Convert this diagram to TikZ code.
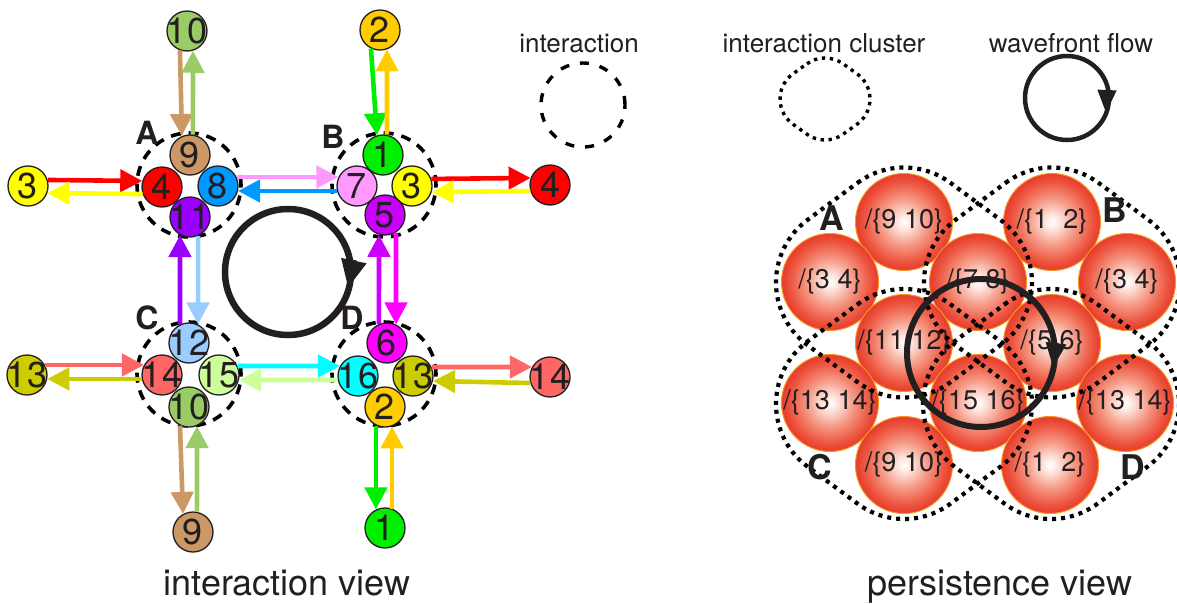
\documentclass[tikz,border=0pt]{standalone}
\usepackage{fontspec}
\setmainfont{TeX Gyre Heros}
\usetikzlibrary{arrows.meta,calc}
\definecolor{txt}{HTML}{231F20}
\definecolor{c1}{HTML}{00EE00}
\definecolor{c2}{HTML}{FFCC00}
\definecolor{c3}{HTML}{FFFF00}
\definecolor{c4}{HTML}{FF0000}
\definecolor{c5}{HTML}{CC00FF}
\definecolor{c6}{HTML}{FF00FF}
\definecolor{c7}{HTML}{FF99FF}
\definecolor{c8}{HTML}{0099FF}
\definecolor{c9}{HTML}{CC9966}
\definecolor{c10}{HTML}{99CC66}
\definecolor{c11}{HTML}{9900FF}
\definecolor{c12}{HTML}{99CCFF}
\definecolor{c13}{HTML}{CCCC00}
\definecolor{c14}{HTML}{FF6666}
\definecolor{c15}{HTML}{CCFF99}
\definecolor{c16}{HTML}{00FFFF}
\definecolor{sphA}{HTML}{FDE3DC}
\definecolor{sphB}{HTML}{F59A86}
\definecolor{sphC}{HTML}{EE5A44}
\definecolor{sphD}{HTML}{E63A2C}
\definecolor{rimc}{HTML}{F7941D}
\pgfdeclareradialshading{sphshade}{\pgfpointorigin}{color(0bp)=(white); color(4bp)=(sphA); color(12bp)=(sphB); color(20bp)=(sphC); color(25bp)=(sphD); color(50bp)=(sphD)}
\tikzset{
  num/.style={circle, draw=txt, line width=1.3pt, minimum size=40pt, inner sep=0pt},
  numtxt/.style={inner sep=0pt, text=txt, font=\fontsize{36}{36}\selectfont},
  arr/.style={line width=4.6pt, -{Triangle[length=22pt,width=22pt]}},
  inter/.style={draw=black, line width=3.6pt, dash pattern=on 10pt off 8pt},
  clus/.style={draw=black, line width=4.2pt, dash pattern=on 4pt off 5pt},
  flow/.style={draw=txt, line width=6.5pt},
  lblL/.style={text=txt, font=\fontsize{32}{32}\selectfont\bfseries, inner sep=0pt},
  lblR/.style={text=txt, font=\fontsize{34}{34}\selectfont\bfseries, inner sep=0pt},
  legtxt/.style={text=txt, font=\fontsize{26}{26}\selectfont, anchor=base, inner sep=0pt},
  viewtxt/.style={text=txt, font=\fontsize{36}{36}\selectfont, anchor=base, inner sep=0pt},
  sphtxt/.style={text=txt, font=\fontsize{27}{27}\selectfont, inner sep=0pt},
  rim/.style={draw=rimc, line width=1pt},
}
\newcommand\numnode[5]{\node[num, fill=#4] (#1) at (#2,-#3) {}; \node[numtxt] (#1t) at (#1) {#5};}
\newcommand\sphnode[4]{\shade[shading=sphshade] (#2,-#3) circle (48.5pt); \draw[rim] (#2,-#3) circle (48.5pt); \node[sphtxt] (#1) at (#2,-#3) {#4};}
\newcommand\clusterhull[7]{%
  \pgfmathsetmacro\hA{180-#6}\pgfmathsetmacro\hB{-180+#6}\pgfmathsetmacro\hC{-180-#6}\pgfmathsetmacro\hD{-#6}%
  \draw[#7] (#1,-#2) ++(0,#4) ++(\hA:#5) arc[start angle=\hA, end angle=#6, radius=#5]
    -- ++(#3,-#4) arc[start angle=#6, end angle=\hD, radius=#5]
    -- ++(-#3,-#4) arc[start angle=\hD, end angle=\hB, radius=#5]
    -- ++(-#3,#4) arc[start angle=\hB, end angle=\hC, radius=#5] -- cycle;}
\begin{document}
\begin{tikzpicture}[x=1pt,y=1pt]
\useasboundingbox (0,0) rectangle (1177,-603);
% ---------- interaction view ----------
\draw[inter] (189,-185) circle (52);
\draw[inter] (384,-185) circle (52);
\draw[inter] (189,-374) circle (52);
\draw[inter] (384,-374) circle (52);
% wavefront flow (left)
\draw[flow] (288,-272) circle (63);
\coordinate (fLt) at (348,-288);
\draw[txt, line width=6.5pt, -{Triangle[length=28pt,width=24pt]}] ($(fLt)+(6,28)$) -- (fLt);
% nodes
\numnode{A9}{190}{155}{c9}{9}
\numnode{A4}{162}{187}{c4}{4}
\numnode{A8}{218}{186}{c8}{8}
\numnode{A11}{190}{217}{c11}{11}
\numnode{B1}{383}{155}{c1}{1}
\numnode{B7}{357}{186}{c7}{7}
\numnode{B3}{412}{186}{c3}{3}
\numnode{B5}{385}{215}{c5}{5}
\numnode{C12}{189}{343}{c12}{12}
\numnode{C14}{162}{375}{c14}{14}
\numnode{C15}{219}{375}{c15}{15}
\numnode{C10}{189}{407}{c10}{10}
\numnode{D6}{387}{343}{c6}{6}
\numnode{D16}{358}{376}{c16}{16}
\numnode{D13}{413}{376}{c13}{13}
\numnode{D2}{385}{407}{c2}{2}
\numnode{o10}{187}{31}{c10}{10}
\numnode{o2}{380}{30}{c2}{2}
\numnode{o3}{28}{186}{c3}{3}
\numnode{o4}{550}{185}{c4}{4}
\numnode{o13}{27}{375}{c13}{13}
\numnode{o14}{550}{377}{c14}{14}
\numnode{o9}{193}{532}{c9}{9}
\numnode{o1}{385}{528}{c1}{1}
% arrows (colour of target)
\draw[arr, c4] (o3.17) -- (A4.163);
\draw[arr, c3] (A4.200) -- (o3.-20);
\draw[arr, c7] (A8.26) -- (B7.154);
\draw[arr, c8] (B7.194) -- (A8.-14);
\draw[arr, c4] (B3.20) -- (o4.160);
\draw[arr, c3] (o4.197) -- (B3.-17);
\draw[arr, c9] (o10.250) -- (A9.113);
\draw[arr, c10] (A9.82) -- (o10.-73);
\draw[arr, c1] (o2.244) -- (B1.107);
\draw[arr, c2] (B1.79) -- (o2.-70);
\draw[arr, c11] (C12.116) -- (A11.241);
\draw[arr, c12] (A11.-67) -- (C12.64);
\draw[arr, c5] (D6.113) -- (B5.253);
\draw[arr, c6] (B5.-58) -- (D6.64);
\draw[arr, c16] (C15.26) -- (D16.151);
\draw[arr, c15] (D16.191) -- (C15.-14);
\draw[arr, c14] (o13.29) -- (C14.151);
\draw[arr, c13] (C14.191) -- (o13.-11);
\draw[arr, c14] (D13.26) -- (o14.151);
\draw[arr, c13] (o14.197) -- (D13.-14);
\draw[arr, c9] (C10.244) -- (o9.119);
\draw[arr, c10] (o9.79) -- (C10.-67);
\draw[arr, c1] (D2.244) -- (o1.116);
\draw[arr, c2] (o1.70) -- (D2.-70);
% cluster labels
\node[lblL] (LA) at (147,-133) {A};
\node[lblL] (LB) at (333,-137) {B};
\node[lblL] (LC) at (147,-318) {C};
\node[lblL] (LD) at (352,-318) {D};
\node[viewtxt] (iview) at (287,-595) {interaction view};
% ---------- legend ----------
\node[legtxt] (leg1) at (579,-52) {interaction};
\node[legtxt] (leg2) at (824,-52) {interaction cluster};
\node[legtxt] (leg3) at (1071,-52) {wavefront flow};
\draw[black, line width=3.4pt, dash pattern=on 9pt off 11pt] (583,-105) circle (42);
\clusterhull{825}{99}{14}{10}{31}{54.5}{black, line width=3.4pt, dash pattern=on 3.4pt off 4.6pt}
\draw[txt, line width=4.5pt] (1067,-98) circle (42);
\coordinate (fGt) at (1106,-113);
\draw[txt, line width=4.5pt, -{Triangle[length=23pt,width=18pt]}] ($(fGt)+(1,23)$) -- (fGt);
% ---------- persistence view ----------
\sphnode{s1}{904}{222}{/\{9 10\}}
\sphnode{s2}{1052}{222}{/\{1\hspace{0.56em}2\}}
\sphnode{s3}{830}{282}{/\{3 4\}}
\sphnode{s4}{978}{282}{/\{7 8\}}
\sphnode{s5}{1127}{282}{/\{3 4\}}
\sphnode{s6}{904}{343}{/\{11 12\}}
\sphnode{s7}{1052}{343}{/\{5 6\}}
\sphnode{s8}{830}{403}{/\{13 14\}}
\sphnode{s9}{978}{403}{/\{15 16\}}
\sphnode{s10}{1125}{403}{/\{13 14\}}
\sphnode{s11}{904}{465}{/\{9 10\}}
\sphnode{s12}{1050}{465}{/\{1\hspace{0.56em}2\}}
\clusterhull{904}{282.5}{50}{37}{78}{53.5}{clus}
\clusterhull{1052}{282.5}{50}{37}{78}{53.5}{clus}
\clusterhull{904}{404}{50}{37}{78}{53.5}{clus}
\clusterhull{1051}{404}{50}{37}{78}{53.5}{clus}
\draw[txt, line width=6pt] (981,-353) circle (74);
\coordinate (fRt) at (1053,-368);
\draw[txt, line width=6pt, -{Triangle[length=25pt,width=19pt]}] ($(fRt)+(3,25)$) -- (fRt);
\node[lblR] (RA) at (832,-218) {A};
\node[lblR] (RB) at (1115,-210) {B};
\node[lblR] (RC) at (820,-467) {C};
\node[lblR] (RD) at (1133,-467) {D};
\node[viewtxt] (pview) at (1000,-595) {persistence view};
\end{tikzpicture}
\end{document}
